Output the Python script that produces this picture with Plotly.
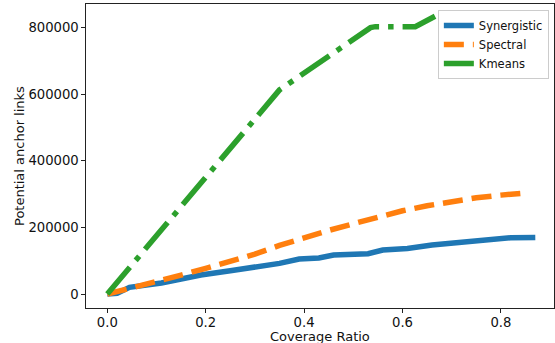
import plotly.graph_objects as go

syn_x = [0.0, 0.02, 0.045, 0.09, 0.11, 0.15, 0.19, 0.25, 0.31, 0.35, 0.39, 0.43, 0.46, 0.53, 0.56, 0.61, 0.66, 0.73, 0.79, 0.82, 0.87]
syn_y = [0, 2000, 20000, 27000, 33000, 45000, 57000, 70000, 82000, 92000, 105000, 108000, 117000, 121000, 132000, 137000, 147000, 156000, 166000, 169000, 170000]

spe_x = [0.0, 0.05, 0.1, 0.15, 0.2, 0.25, 0.3, 0.35, 0.4, 0.45, 0.5, 0.55, 0.6, 0.65, 0.7, 0.75, 0.8, 0.855]
spe_y = [0, 18000, 38000, 57000, 77000, 98000, 120000, 146000, 170000, 191000, 211000, 231000, 250000, 265000, 278000, 289000, 297000, 304000]

km_x = [0.0, 0.335, 0.35, 0.535, 0.545, 0.626, 0.64, 0.66, 0.68]
km_y = [0, 590000, 613000, 800000, 803000, 803000, 815000, 832000, 845000]

x_ticks = [0.0, 0.2, 0.4, 0.6, 0.8]
x_ticklabels = ["0.0", "0.2", "0.4", "0.6", "0.8"]
y_ticks = [0, 200000, 400000, 600000, 800000]
y_ticklabels = ["0", "200000", "400000", "600000", "800000"]

x_title = "Coverage Ratio"
y_title = "Potential anchor links"

fig = go.Figure()
fig.add_trace(go.Scatter(x=syn_x, y=syn_y, mode="lines", name="Synergistic",
                         line=dict(color="#1f77b4", width=5.5)))
fig.add_trace(go.Scatter(x=spe_x, y=spe_y, mode="lines", name="Spectral",
                         line=dict(color="#ff7f0e", width=5.5, dash="20px,9px")))
fig.add_trace(go.Scatter(x=km_x, y=km_y, mode="lines", name="Kmeans",
                         line=dict(color="#2ca02c", width=5.5, dash="35px,9px,5.5px,9px")))

axis_common = dict(showgrid=False, zeroline=False, showline=True, linecolor="#222",
                   linewidth=1.2, mirror=True, ticks="outside", ticklen=3.5, tickwidth=1,
                   tickcolor="#222", tickfont=dict(size=13.2, color="#111"))

fig.update_layout(
    width=555, height=343,
    margin=dict(l=86, r=1, t=4, b=35),
    paper_bgcolor="white", plot_bgcolor="white",
    font=dict(family="DejaVu Sans", color="#111"),
    xaxis=dict(range=[-0.0433, 0.908], tickvals=x_ticks, ticktext=x_ticklabels,
               ticklabelstandoff=-1, **axis_common),
    yaxis=dict(range=[-42000, 871000], tickvals=y_ticks, ticktext=y_ticklabels,
               **axis_common),
    legend=dict(x=0.989, y=0.980, xanchor="right", yanchor="top",
                bgcolor="rgba(255,255,255,0.95)", bordercolor="#cccccc", borderwidth=1,
                font=dict(size=11.5, color="#111")),
    showlegend=True,
    annotations=[
        dict(text=x_title, xref="paper", yref="paper", x=0.5, y=(308 - 336) / 304,
             xanchor="center", yanchor="middle", showarrow=False, borderpad=0,
             font=dict(size=13, color="#111")),
        dict(text=y_title, xref="paper", yref="paper", x=(19 - 86) / 468, y=0.5,
             xanchor="center", yanchor="middle", showarrow=False, textangle=-90,
             borderpad=0, font=dict(size=13, color="#111")),
    ],
)

fig.write_html("out.html")
